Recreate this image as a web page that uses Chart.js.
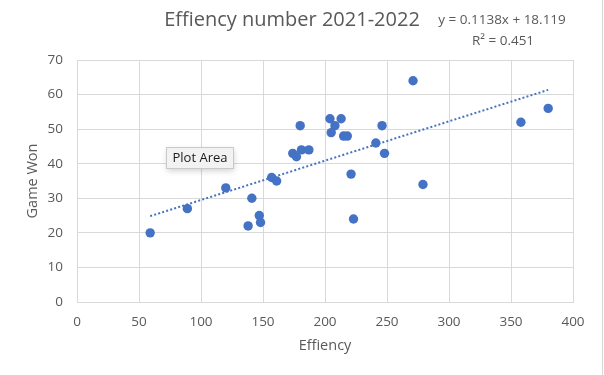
<!DOCTYPE html>
<html>
<head>
<meta charset="utf-8">
<script src="https://cdn.jsdelivr.net/npm/chart.js@4.4.1/dist/chart.umd.min.js"></script>
<style>
  html, body { margin: 0; padding: 0; background: #ffffff; }
  #wrap { width: 604px; height: 375px; position: relative; }
</style>
</head>
<body>
<div id="wrap"><canvas id="c" width="604" height="375"></canvas></div>
<script>
// ---- data ----
const efficiency = [59, 89, 120, 141, 138, 147, 148, 157, 161, 180, 174, 177, 181, 187,
                    204, 213, 208, 205, 215, 218, 221, 241, 246, 248, 271, 279, 223, 358, 380];
const gamesWon   = [20, 27, 33, 30, 22, 25, 23, 36, 35, 51, 43, 42, 44, 44,
                    53, 53, 51, 49, 48, 48, 37, 46, 51, 43, 64, 34, 24, 52, 56];
const xTicks = [0, 50, 100, 150, 200, 250, 300, 350, 400];
const yTicks = [0, 10, 20, 30, 40, 50, 60, 70];
const trendSlope = 0.1138;
const trendIntercept = 18.119;
const trendR2 = 0.451;
const chartTitle = 'Effiency number 2021-2022';
const xTitle = 'Effiency';
const yTitle = 'Game Won';

const points = efficiency.map((x, i) => ({ x: x, y: gamesWon[i] }));
const xMin = Math.min(...efficiency), xMax = Math.max(...efficiency);
const trendPoints = [xMin, xMax].map(x => ({ x: x, y: trendSlope * x + trendIntercept }));

const FONT = "'Open Sans', 'Liberation Sans', sans-serif";
const TXT = '#595959';
const GRID = '#D9D9D9';
const BLUE = '#4472C4';

const overlay = {
  id: 'overlay',
  afterDraw(chart) {
    const ctx = chart.ctx;
    ctx.save();
    // chart title
    ctx.fillStyle = TXT;
    ctx.font = "20px " + FONT;
    ctx.textAlign = 'center';
    ctx.textBaseline = 'middle';
    ctx.fillText(chartTitle, 292, 20);
    // trendline label
    ctx.font = "13.5px " + FONT;
    ctx.fillText('y = ' + trendSlope + 'x + ' + trendIntercept, 502, 20);
    ctx.fillText('R\u00B2 = ' + trendR2, 503, 41);
    // "Plot Area" hover box
    ctx.shadowColor = 'rgba(0,0,0,0.18)';
    ctx.shadowBlur = 6;
    ctx.shadowOffsetY = 2;
    ctx.fillStyle = '#F2F2F2';
    ctx.fillRect(166.5, 147.5, 67, 21);
    ctx.shadowColor = 'transparent';
    ctx.strokeStyle = '#C9C9C9';
    ctx.lineWidth = 1;
    ctx.strokeRect(166.5, 147.5, 67, 21);
    ctx.fillStyle = '#1a1a1a';
    ctx.font = "13px " + FONT;
    ctx.textAlign = 'center';
    ctx.fillText('Plot Area', 200, 158.5);
    // right frame edge
    ctx.strokeStyle = '#D9D9D9';
    ctx.beginPath();
    ctx.moveTo(602.5, 0);
    ctx.lineTo(602.5, 375);
    ctx.stroke();
    ctx.restore();
  }
};

new Chart(document.getElementById('c'), {
  type: 'scatter',
  data: {
    datasets: [
      {
        label: 'Game Won',
        data: points,
        backgroundColor: BLUE,
        borderColor: BLUE,
        pointRadius: 4.7,
        pointHoverRadius: 4.7,
        borderWidth: 0,
        order: 1
      },
      {
        label: 'Trend',
        type: 'line',
        data: trendPoints,
        borderColor: BLUE,
        borderWidth: 2,
        borderDash: [2, 2.2],
        pointRadius: 0,
        fill: false,
        order: 2
      }
    ]
  },
  options: {
    responsive: false,
    animation: false,
    events: [],
    layout: { padding: { top: 60, right: 31, bottom: 0, left: 0 } },
    plugins: {
      legend: { display: false },
      title: { display: false },
      tooltip: { enabled: false }
    },
    scales: {
      x: {
        type: 'linear',
        min: 0, max: 400,
        afterBuildTicks(scale) { scale.ticks = xTicks.map(v => ({ value: v })); },
        afterFit(scale) { scale.height = 73; },
        grid: { color: GRID, lineWidth: 1, drawTicks: false },
        border: { color: GRID, width: 1 },
        ticks: { color: TXT, padding: 12, font: { family: FONT, size: 13.5 } },
        title: {
          display: true, text: xTitle, color: TXT,
          font: { family: FONT, size: 14.5 },
          padding: { top: 0, bottom: 20 }
        }
      },
      y: {
        type: 'linear',
        min: 0, max: 70,
        afterBuildTicks(scale) { scale.ticks = yTicks.map(v => ({ value: v })); },
        afterFit(scale) { scale.width = 77; },
        grid: { color: GRID, lineWidth: 1, drawTicks: false },
        border: { color: GRID, width: 1 },
        ticks: { color: TXT, padding: 14, font: { family: FONT, size: 13.5 } },
        title: {
          display: true, text: yTitle, color: TXT,
          font: { family: FONT, size: 14.5 },
          padding: { top: 24, bottom: 0 }
        }
      }
    }
  },
  plugins: [overlay]
});
</script>
</body>
</html>
